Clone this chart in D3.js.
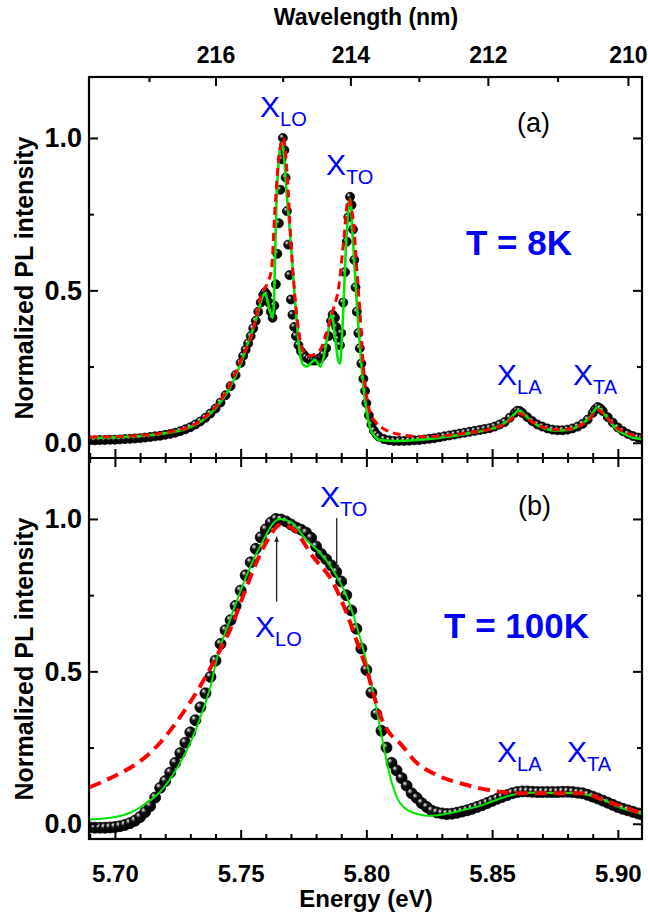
<!DOCTYPE html>
<html>
<head>
<meta charset="utf-8">
<script src="https://cdn.jsdelivr.net/npm/d3@7"></script>
<style>
body { margin: 0; background: #fff; }
text { font-family: "Liberation Sans", Arial, sans-serif; }
</style>
</head>
<body>
<div id="chart"></div>
<script>
// ---- panel (a), T = 8K : [energy eV, normalized intensity] ----
var aData = [
 [5.690,0.008],[5.692,0.008],[5.694,0.009],[5.696,0.009],[5.698,0.010],[5.700,0.010],
 [5.702,0.011],[5.704,0.012],[5.706,0.013],[5.708,0.014],[5.710,0.015],[5.712,0.017],
 [5.714,0.019],[5.716,0.021],[5.718,0.023],[5.720,0.026],[5.722,0.029],[5.724,0.033],
 [5.726,0.038],[5.728,0.044],[5.730,0.051],[5.732,0.060],[5.734,0.070],[5.736,0.082],
 [5.738,0.096],[5.740,0.112],[5.742,0.132],[5.744,0.156],[5.746,0.186],[5.748,0.222],
 [5.750,0.262],[5.751,0.285],[5.752,0.305],[5.753,0.326],[5.754,0.350],[5.755,0.375],
 [5.756,0.400],[5.757,0.430],[5.758,0.460],[5.759,0.485],[5.7597,0.494],[5.7605,0.485],
 [5.7613,0.460],[5.762,0.430],[5.7627,0.410],[5.7634,0.450],[5.764,0.520],[5.7646,0.620],
 [5.7652,0.720],[5.7658,0.830],[5.7663,0.930],[5.7668,1.000],[5.7674,0.960],[5.7679,0.870],
 [5.7684,0.760],[5.7689,0.650],[5.7694,0.550],[5.770,0.470],[5.7706,0.420],[5.7713,0.380],
 [5.772,0.350],[5.773,0.320],[5.774,0.300],[5.775,0.290],[5.776,0.280],[5.777,0.275],
 [5.778,0.270],[5.779,0.270],[5.780,0.270],[5.781,0.275],[5.782,0.280],[5.783,0.290],
 [5.784,0.310],[5.785,0.350],[5.786,0.400],[5.7866,0.420],[5.7875,0.410],[5.788,0.380],
 [5.7887,0.340],[5.7895,0.320],[5.790,0.360],[5.7908,0.460],[5.7915,0.560],[5.7922,0.660],
 [5.7928,0.740],[5.7935,0.807],[5.7941,0.780],[5.7947,0.700],[5.7952,0.600],[5.7957,0.510],
 [5.7962,0.430],[5.7968,0.360],[5.7974,0.310],[5.798,0.260],[5.7988,0.210],[5.7995,0.170],
 [5.800,0.130],[5.801,0.090],[5.802,0.060],[5.803,0.040],[5.804,0.028],[5.805,0.020],
 [5.807,0.012],[5.809,0.008],[5.811,0.006],[5.813,0.006],[5.815,0.006],[5.817,0.007],
 [5.819,0.008],[5.821,0.009],[5.823,0.011],[5.825,0.013],[5.827,0.015],[5.829,0.018],
 [5.831,0.021],[5.833,0.024],[5.835,0.027],[5.837,0.030],[5.839,0.033],[5.841,0.036],
 [5.843,0.039],[5.845,0.042],[5.847,0.045],[5.849,0.048],[5.851,0.053],[5.853,0.060],
 [5.855,0.068],[5.857,0.082],[5.859,0.098],[5.860,0.105],[5.861,0.104],[5.862,0.098],
 [5.864,0.084],[5.866,0.071],[5.868,0.060],[5.870,0.053],[5.872,0.047],[5.874,0.043],
 [5.876,0.041],[5.878,0.041],[5.880,0.043],[5.882,0.047],[5.884,0.053],[5.886,0.062],
 [5.888,0.076],[5.890,0.098],[5.891,0.110],[5.892,0.117],[5.893,0.113],[5.894,0.104],
 [5.896,0.084],[5.898,0.066],[5.900,0.050],[5.902,0.038],[5.904,0.029],[5.906,0.022],
 [5.908,0.017],[5.9095,0.015]
];
var aGreen = [
 [5.690,0.016],[5.700,0.018],[5.710,0.022],[5.720,0.031],[5.728,0.045],[5.734,0.068],
 [5.740,0.113],[5.745,0.170],[5.750,0.258],[5.753,0.330],[5.755,0.375],[5.757,0.430],
 [5.7585,0.475],[5.7597,0.490],[5.7610,0.455],[5.7627,0.410],[5.7632,0.450],[5.7636,0.580],
 [5.7643,0.800],[5.7652,0.930],[5.7662,0.985],[5.7670,0.960],[5.7682,0.830],[5.7696,0.690],
 [5.7716,0.470],[5.7736,0.290],[5.7750,0.255],[5.7763,0.250],[5.7780,0.262],[5.7796,0.272],
 [5.7806,0.262],[5.7816,0.250],[5.7830,0.280],[5.7845,0.350],[5.7862,0.420],[5.7875,0.350],
 [5.7888,0.270],[5.7895,0.260],[5.7905,0.380],[5.7920,0.660],[5.7935,0.800],[5.7947,0.660],
 [5.7961,0.470],[5.7981,0.250],[5.7998,0.120],[5.8014,0.050],[5.8034,0.020],[5.8060,0.008],
 [5.812,0.006],[5.820,0.009],[5.830,0.017],[5.840,0.030],[5.848,0.042],[5.853,0.055],
 [5.8565,0.075],[5.8590,0.095],[5.8605,0.105],[5.8625,0.095],[5.8660,0.068],[5.8700,0.050],
 [5.8750,0.040],[5.8800,0.042],[5.8850,0.058],[5.8890,0.085],[5.8918,0.115],[5.8950,0.090],
 [5.8995,0.045],[5.9050,0.020],[5.9095,0.012]
];
var aRed = [
 [5.690,0.018],[5.700,0.020],[5.710,0.024],[5.720,0.033],[5.728,0.048],[5.734,0.072],
 [5.740,0.118],[5.745,0.178],[5.750,0.268],[5.755,0.370],[5.7584,0.490],[5.7610,0.530],
 [5.7623,0.570],[5.7636,0.760],[5.7650,0.920],[5.7669,1.000],[5.7685,0.880],[5.7700,0.660],
 [5.7716,0.480],[5.7732,0.360],[5.7749,0.300],[5.7770,0.285],[5.7795,0.290],[5.7820,0.310],
 [5.7845,0.370],[5.7868,0.436],[5.7890,0.510],[5.7910,0.665],[5.7928,0.800],[5.7950,0.710],
 [5.7961,0.580],[5.7975,0.420],[5.7988,0.250],[5.8005,0.130],[5.802,0.090],[5.804,0.065],
 [5.807,0.045],[5.810,0.034],[5.8134,0.027],[5.818,0.022],[5.825,0.020],[5.832,0.024],
 [5.840,0.032],[5.848,0.042],[5.853,0.054],[5.8565,0.070],[5.8590,0.088],[5.8605,0.097],
 [5.8625,0.090],[5.8660,0.068],[5.8700,0.052],[5.8750,0.043],[5.8800,0.044],[5.8850,0.056],
 [5.8890,0.080],[5.8918,0.108],[5.8950,0.088],[5.8995,0.050],[5.9050,0.028],[5.9095,0.020]
];

// ---- panel (b), T = 100K ----
var bData = [
 [5.690,-0.012],[5.692,-0.013],[5.694,-0.013],[5.696,-0.013],[5.698,-0.012],[5.700,-0.011],
 [5.702,-0.008],[5.704,-0.004],[5.706,0.002],[5.708,0.010],[5.710,0.022],[5.712,0.038],
 [5.714,0.058],[5.716,0.086],[5.718,0.118],[5.720,0.140],[5.722,0.168],[5.724,0.200],
 [5.726,0.232],[5.728,0.266],[5.730,0.300],[5.732,0.340],[5.734,0.382],[5.736,0.428],
 [5.738,0.482],[5.740,0.535],[5.742,0.590],[5.744,0.635],[5.746,0.668],[5.748,0.715],
 [5.750,0.765],[5.752,0.815],[5.754,0.858],[5.756,0.902],[5.758,0.940],[5.760,0.966],
 [5.762,0.988],[5.764,1.000],[5.766,0.998],[5.768,0.992],[5.770,0.982],[5.772,0.972],
 [5.774,0.965],[5.776,0.955],[5.778,0.938],[5.780,0.910],[5.782,0.885],[5.784,0.868],
 [5.786,0.848],[5.788,0.826],[5.790,0.795],[5.792,0.750],[5.794,0.700],[5.796,0.640],
 [5.798,0.575],[5.800,0.505],[5.802,0.430],[5.804,0.360],[5.806,0.305],[5.808,0.250],
 [5.810,0.200],[5.812,0.175],[5.814,0.150],[5.816,0.125],[5.818,0.100],[5.820,0.085],
 [5.822,0.068],[5.824,0.055],[5.826,0.043],[5.828,0.037],[5.830,0.034],[5.832,0.032],
 [5.834,0.033],[5.836,0.036],[5.838,0.040],[5.840,0.044],[5.842,0.049],[5.844,0.055],
 [5.846,0.061],[5.848,0.068],[5.850,0.075],[5.852,0.082],[5.854,0.088],[5.856,0.094],
 [5.858,0.100],[5.860,0.104],[5.862,0.106],[5.864,0.106],[5.866,0.105],[5.868,0.104],
 [5.870,0.104],[5.872,0.104],[5.874,0.104],[5.876,0.104],[5.878,0.105],[5.880,0.105],
 [5.882,0.104],[5.884,0.102],[5.886,0.100],[5.888,0.095],[5.890,0.089],[5.892,0.083],
 [5.894,0.076],[5.896,0.069],[5.898,0.062],[5.900,0.055],[5.902,0.049],[5.904,0.044],
 [5.906,0.039],[5.908,0.034],[5.9095,0.031]
];
var bGreen = [
 [5.690,0.014],[5.700,0.022],[5.707,0.040],[5.712,0.065],[5.718,0.105],[5.7245,0.180],
 [5.7305,0.275],[5.7338,0.345],[5.738,0.450],[5.7405,0.540],[5.7458,0.670],[5.7517,0.800],
 [5.7577,0.910],[5.7656,1.000],[5.770,0.990],[5.7763,0.930],[5.782,0.885],[5.7869,0.830],
 [5.7922,0.745],[5.7975,0.610],[5.8001,0.530],[5.803,0.420],[5.806,0.290],[5.809,0.170],
 [5.8115,0.100],[5.8134,0.068],[5.817,0.042],[5.8225,0.028],[5.8253,0.026],[5.830,0.030],
 [5.836,0.040],[5.8464,0.062],[5.853,0.082],[5.8598,0.098],[5.866,0.102],[5.873,0.101],
 [5.8796,0.101],[5.886,0.098],[5.8929,0.084],[5.8995,0.058],[5.9095,0.032]
];
var bRed = [
 [5.690,0.120],[5.7007,0.160],[5.710,0.205],[5.7179,0.265],[5.7259,0.350],[5.7338,0.450],
 [5.7405,0.550],[5.747,0.660],[5.7511,0.750],[5.7564,0.860],[5.761,0.935],[5.7656,0.980],
 [5.770,0.972],[5.7788,0.876],[5.7868,0.790],[5.7922,0.690],[5.797,0.580],[5.800,0.510],
 [5.803,0.420],[5.806,0.345],[5.809,0.300],[5.8134,0.264],[5.820,0.200],[5.828,0.160],
 [5.840,0.127],[5.853,0.105],[5.860,0.100],[5.873,0.100],[5.886,0.100],[5.895,0.075],
 [5.9023,0.055],[5.9088,0.035]
];

// axis ticks
var eMajor = [5.70, 5.75, 5.80, 5.85, 5.90];
var yMajor = [0, 0.5, 1.0];
var yMinor = [0.25, 0.75];
var lamMajor = [210, 212, 214, 216];
var lamMinor = [211, 213, 215, 217];
var hc = 1239.84;   // eV*nm

// frame geometry
var width = 648, height = 915;
var frameL = 89, frameR = 642, frameT = 77, frameM = 458, frameB = 839;
var blue = "#0000ff";
var font = "'Liberation Sans', Arial, sans-serif";

var svg = d3.select("#chart").append("svg")
    .attr("width", width)
    .attr("height", height);

var defs = svg.append("defs");

// 3D ball symbol, mostly black with a small highlight
var grad = defs.append("radialGradient").attr("id", "ball")
    .attr("cx", "40%").attr("cy", "38%").attr("r", "60%")
    .attr("fx", "32%").attr("fy", "28%");
grad.append("stop").attr("offset", "0%").attr("stop-color", "#ffffff");
grad.append("stop").attr("offset", "14%").attr("stop-color", "#a0a0a0");
grad.append("stop").attr("offset", "40%").attr("stop-color", "#111");
grad.append("stop").attr("offset", "100%").attr("stop-color", "#000");

defs.append("marker").attr("id", "arrow")
    .attr("viewBox", "0 0 10 10").attr("refX", 10).attr("refY", 5)
    .attr("markerWidth", 10).attr("markerHeight", 5)
    .attr("markerUnits", "userSpaceOnUse")
    .attr("orient", "auto")
  .append("path").attr("d", "M0,0 L10,5 L0,10 Z").attr("fill", "#222");

var x = d3.scaleLinear().domain([5.6897, 5.9096]).range([frameL, frameR]);
var yA = d3.scaleLinear().domain([-0.05, 1.2]).range([frameM, frameT]);
var yB = d3.scaleLinear().domain([-0.05, 1.2]).range([frameB, frameM]);

var eMinor = x.ticks(22).filter(function(t) {
    return eMajor.every(function(m) { return Math.abs(m - t) > 1e-6; });
});

function drawPanel(id, y, y0, y1, data, green, red, r, gw, rw, dash) {
    defs.append("clipPath").attr("id", id)
      .append("rect").attr("x", frameL).attr("y", y0)
      .attr("width", frameR - frameL).attr("height", y1 - y0);

    var g = svg.append("g").attr("clip-path", "url(#" + id + ")");

    g.selectAll("circle")
        .data(data)
        .enter()
        .append("circle")
        .attr("cx", function(d) { return x(d[0]); })
        .attr("cy", function(d) { return y(d[1]); })
        .attr("r", r)
        .attr("fill", "url(#ball)")
        .attr("stroke", "#000")
        .attr("stroke-width", 0.8);

    var line = d3.line()
        .x(function(d) { return x(d[0]); })
        .y(function(d) { return y(d[1]); })
        .curve(d3.curveMonotoneX);

    g.append("path").datum(green)
        .attr("d", line)
        .attr("fill", "none")
        .attr("stroke", "#00e600")
        .attr("stroke-width", gw);

    g.append("path").datum(red)
        .attr("d", line)
        .attr("fill", "none")
        .attr("stroke", "#ff0000")
        .attr("stroke-width", rw)
        .attr("stroke-dasharray", dash);
}

drawPanel("clipA", yA, frameT, frameM, aData, aGreen, aRed, 4.5, 2.6, 3, "8,5");
drawPanel("clipB", yB, frameM, frameB, bData, bGreen, bRed, 5.5, 2, 4, "12,7");

// axes
function addAxis(axis, tx, ty, size) {
    var g = svg.append("g")
        .attr("transform", "translate(" + tx + "," + ty + ")")
        .call(axis);
    g.select(".domain").remove();
    g.selectAll("line").attr("stroke", "#000").attr("stroke-width", 2);
    g.attr("font-family", font).attr("font-size", size || 24).attr("font-weight", "bold");
    g.selectAll("text").attr("fill", "#000");
    return g;
}

// energy ticks on every horizontal frame line
addAxis(d3.axisBottom(x).tickValues(eMajor).tickSize(-9).tickSizeOuter(0)
    .tickPadding(26).tickFormat(d3.format(".2f")), 0, frameB, 24);
addAxis(d3.axisBottom(x).tickValues(eMinor).tickSize(-5).tickFormat(""), 0, frameB);
addAxis(d3.axisTop(x).tickValues(eMajor).tickSize(-9).tickFormat(""), 0, frameM);
addAxis(d3.axisTop(x).tickValues(eMinor).tickSize(-5).tickFormat(""), 0, frameM);
addAxis(d3.axisBottom(x).tickValues(eMajor).tickSize(-9).tickFormat(""), 0, frameM);
addAxis(d3.axisBottom(x).tickValues(eMinor).tickSize(-5).tickFormat(""), 0, frameM);

// wavelength ticks on top
addAxis(d3.axisTop(x).tickValues(lamMajor.map(function(l) { return hc / l; }))
    .tickSize(-9).tickPadding(14)
    .tickFormat(function(e) { return Math.round(hc / e); }), 0, frameT, 23);
addAxis(d3.axisTop(x).tickValues(lamMinor.map(function(l) { return hc / l; }))
    .tickSize(-5).tickFormat(""), 0, frameT);

// y axes, both panels
[yA, yB].forEach(function(y) {
    addAxis(d3.axisLeft(y).tickValues(yMajor).tickSize(-9).tickPadding(7)
        .tickFormat(d3.format(".1f")), frameL, 0, 27);
    addAxis(d3.axisLeft(y).tickValues(yMinor).tickSize(-5).tickFormat(""), frameL, 0);
    addAxis(d3.axisRight(y).tickValues(yMajor).tickSize(-9).tickFormat(""), frameR, 0);
    addAxis(d3.axisRight(y).tickValues(yMinor).tickSize(-5).tickFormat(""), frameR, 0);
});

// frames
svg.append("rect").attr("x", frameL).attr("y", frameT)
    .attr("width", frameR - frameL).attr("height", frameB - frameT)
    .attr("fill", "none").attr("stroke", "#000").attr("stroke-width", 2.2);
svg.append("line").attr("x1", frameL).attr("x2", frameR)
    .attr("y1", frameM).attr("y2", frameM)
    .attr("stroke", "#000").attr("stroke-width", 2.2);

// axis titles
svg.append("text").attr("x", 366).attr("y", 25)
    .attr("text-anchor", "middle").attr("font-size", 23).attr("font-weight", "bold")
    .text("Wavelength (nm)");
svg.append("text").attr("x", 366).attr("y", 907)
    .attr("text-anchor", "middle").attr("font-size", 24).attr("font-weight", "bold")
    .text("Energy (eV)");
[278, 659].forEach(function(cy) {
    svg.append("text")
        .attr("transform", "translate(33," + cy + ")rotate(-90)")
        .attr("text-anchor", "middle").attr("font-size", 25).attr("font-weight", "bold")
        .text("Normalized PL intensity");
});

// panel tags and temperatures
svg.append("text").attr("x", 550).attr("y", 132).attr("text-anchor", "end")
    .attr("font-size", 27).text("(a)");
svg.append("text").attr("x", 551).attr("y", 515).attr("text-anchor", "end")
    .attr("font-size", 27).text("(b)");
svg.append("text").attr("x", 572).attr("y", 255).attr("text-anchor", "end")
    .attr("font-size", 35).attr("font-weight", "bold").attr("fill", blue)
    .text("T = 8K");
svg.append("text").attr("x", 589).attr("y", 638).attr("text-anchor", "end")
    .attr("font-size", 35).attr("font-weight", "bold").attr("fill", blue)
    .text("T = 100K");

// phonon replica labels
var peakLabels = [
    { x: 260, y: 117, sub: "LO" },
    { x: 326, y: 175, sub: "TO" },
    { x: 497, y: 385, sub: "LA" },
    { x: 573, y: 385, sub: "TA" },
    { x: 320, y: 507, sub: "TO" },
    { x: 255, y: 637, sub: "LO" },
    { x: 497, y: 762, sub: "LA" },
    { x: 567, y: 762, sub: "TA" }
];
peakLabels.forEach(function(p) {
    var t = svg.append("text").attr("x", p.x).attr("y", p.y)
        .attr("fill", blue).attr("font-size", 30);
    t.append("tspan").text("X");
    t.append("tspan").attr("dy", 9).attr("font-size", 20).text(p.sub);
});

// arrows in panel (b): [energy, from, to]
var arrows = [[5.7643, 0.729, 0.942], [5.7882, 1.003, 0.833]];
arrows.forEach(function(a) {
    svg.append("line")
        .attr("x1", x(a[0])).attr("x2", x(a[0]))
        .attr("y1", yB(a[1])).attr("y2", yB(a[2]))
        .attr("stroke", "#222").attr("stroke-width", 1.3)
        .attr("marker-end", "url(#arrow)");
});
</script>
</body>
</html>
